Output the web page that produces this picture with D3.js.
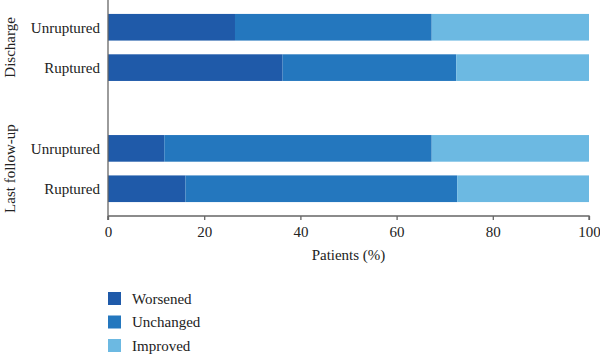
<!DOCTYPE html>
<html>
<head>
<meta charset="utf-8">
<script src="https://cdn.jsdelivr.net/npm/d3@7"></script>
<style>
  body { margin: 0; background: #fff; }
  svg text { font-family: "Liberation Serif", "DejaVu Serif", serif; fill: #222; }
</style>
</head>
<body>
<svg id="chart" width="600" height="354"></svg>
<script>
// data
const groups = ["Discharge", "Last follow-up"]
const categories = ["Unruptured", "Ruptured"]
const seriesNames = ["Worsened", "Unchanged", "Improved"]
const colors = ["#1f5aa9", "#2477be", "#6cb9e2"]
// per group, per category: worsened / unchanged / improved (%)
const discharge = [[26.4, 40.9, 32.7], [36.3, 36.1, 27.6]]
const lastFollowUp = [[11.7, 55.6, 32.7], [16.1, 56.5, 27.4]]
const xTicks = [0, 20, 40, 60, 80, 100]

const groupValues = [discharge, lastFollowUp]

let rows = []
groups.forEach(function (g, gi) {
    categories.forEach(function (c, ci) {
        let r = { key: g + "|" + c, group: g, cat: c }
        seriesNames.forEach(function (s, si) { r[s] = groupValues[gi][ci][si] })
        rows.push(r)
    })
})

// y slots, with one empty slot between the groups
let yKeys = []
groups.forEach(function (g, gi) {
    if (gi > 0) yKeys.push("gap" + gi)
    categories.forEach(function (c) { yKeys.push(g + "|" + c) })
})

let margin = { left: 108, right: 11, top: 0 }
let plotBottom = 216

let svg = d3.select("#chart")

let xScale = d3.scaleLinear().domain([0, 100]).range([margin.left, 600 - margin.right])
let yScale = d3.scaleBand()
    .domain(yKeys)
    .range([margin.top, plotBottom])
    .paddingInner(0.34)
    .paddingOuter(0.345)

let stack = d3.stack().keys(seriesNames)
let layers = stack(rows)

// bars
svg.append("g").selectAll("g")
    .data(layers)
    .enter()
    .append("g")
    .attr("fill", function (d, i) { return colors[i] })
    .selectAll("rect")
    .data(function (d) { return d })
    .enter()
    .append("rect")
    .attr("x", function (d) { return xScale(d[0]) })
    .attr("y", function (d) { return yScale(d.data.key) })
    .attr("width", function (d) { return xScale(d[1]) - xScale(d[0]) })
    .attr("height", yScale.bandwidth())

// x axis
let xAxis = svg.append("g")
    .attr("transform", "translate(0," + plotBottom + ")")
    .call(d3.axisBottom(xScale).tickValues(xTicks).tickSize(4).tickPadding(6))
xAxis.selectAll("path, line").attr("stroke", "#666").attr("stroke-width", 1.3)
xAxis.select(".domain").attr("d", "M" + xScale(0) + ",0H" + xScale(100) + "V4M" + xScale(0) + ",0V4")
xAxis.selectAll("text").attr("font-size", "15px").attr("font-family", "Liberation Serif").attr("fill", "#222")

// y axis line
svg.append("line")
    .attr("x1", margin.left).attr("x2", margin.left)
    .attr("y1", 0).attr("y2", plotBottom + 4)
    .attr("stroke", "#666").attr("stroke-width", 1.3)

// category labels
svg.append("g").selectAll("text")
    .data(rows)
    .enter()
    .append("text")
    .attr("x", 100)
    .attr("y", function (d) { return yScale(d.key) + yScale.bandwidth() / 2 })
    .attr("dy", "0.35em")
    .attr("text-anchor", "end")
    .attr("font-size", "15px")
    .text(function (d) { return d.cat })

// group labels
svg.append("g").selectAll("text")
    .data(groups)
    .enter()
    .append("text")
    .attr("transform", function (g) {
        let a = yScale(g + "|" + categories[0])
        let b = yScale(g + "|" + categories[categories.length - 1]) + yScale.bandwidth()
        return "translate(15," + ((a + b) / 2) + ") rotate(-90)"
    })
    .attr("text-anchor", "middle")
    .attr("font-size", "15px")
    .text(function (d) { return d })

// axis title
svg.append("text")
    .attr("x", (xScale(0) + xScale(100)) / 2)
    .attr("y", 260)
    .attr("text-anchor", "middle")
    .attr("font-size", "15px")
    .text("Patients (%)")

// legend
let legend = svg.append("g").selectAll("g")
    .data(seriesNames)
    .enter()
    .append("g")
    .attr("transform", function (d, i) { return "translate(108," + (292 + i * 23.5) + ")" })
legend.append("rect")
    .attr("width", 13).attr("height", 13)
    .attr("fill", function (d, i) { return colors[i] })
legend.append("text")
    .attr("x", 24).attr("y", 6.5).attr("dy", "0.35em")
    .attr("font-size", "15px")
    .text(function (d) { return d })
</script>
</body>
</html>
